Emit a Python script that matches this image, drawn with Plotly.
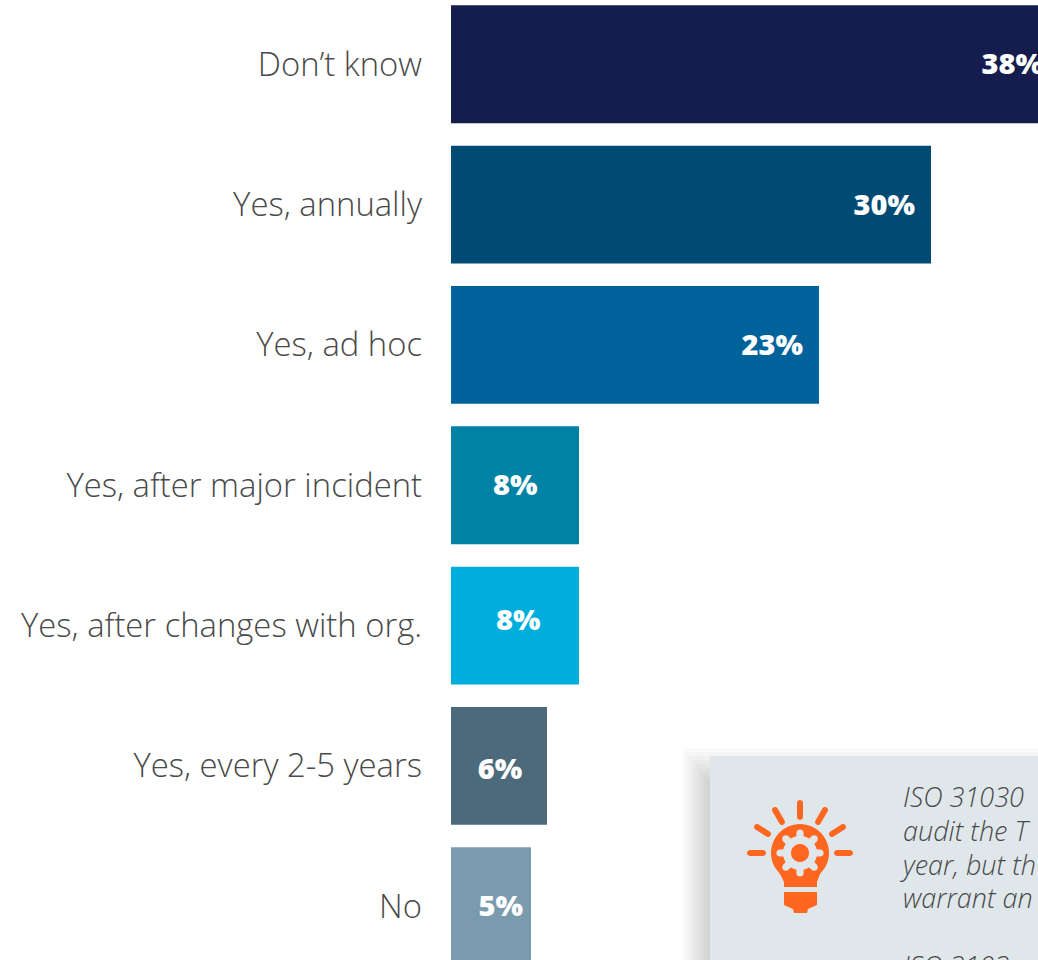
import math
import plotly.graph_objects as go

# Survey results
categories = ["Don’t know", "Yes, annually", "Yes, ad hoc", "Yes, after major incident",
              "Yes, after changes with org.", "Yes, every 2-5 years", "No"]
values = [38, 30, 23, 8, 8, 6, 5]
bar_colors = ["#151d4e", "#004b73", "#00629b", "#0082a4", "#00aedb", "#4d6a7d", "#7a9aae"]

# Nudges for the value labels, in axis units
label_dx = [-1.0, -1.0, -1.0, -2.6, -2.4, -1.55, -0.5]
label_dy = [0.02, 0.02, 0.02, 0.02, -0.02, 0.045, 0.02]

callout_lines = ["ISO 31030", "audit the T", "year, but th", "warrant an", "", "ISO 3103"]

W, H = 1038, 960
TEXT = "#4a4a4a"
ORANGE = "#ff6720"
PANEL = "#e0e7eb"
BODY_FONT = "Open Sans"


def px(x):
    return x / W


def py(y):
    return 1 - y / H


def poly(points):
    return "M " + " L ".join(f"{px(x):.5f},{py(y):.5f}" for x, y in points) + " Z"


def circle(cx, cy, r, n=48):
    return [(cx + r * math.cos(2 * math.pi * i / n), cy + r * math.sin(2 * math.pi * i / n)) for i in range(n)]


def capsule(x0, y0, x1, y1, r):
    a = math.atan2(y1 - y0, x1 - x0)
    pts = []
    for i in range(9):
        t = a + math.pi / 2 + math.pi * i / 8
        pts.append((x0 + r * math.cos(t), y0 + r * math.sin(t)))
    for i in range(9):
        t = a - math.pi / 2 + math.pi * i / 8
        pts.append((x1 + r * math.cos(t), y1 + r * math.sin(t)))
    return pts


def filled(path, color):
    return dict(type="path", xref="paper", yref="paper", path=path, fillcolor=color,
                line=dict(width=0), layer="above")


shapes = []

# Soft drop shadow behind the callout panel
for k in range(9):
    shapes.append(dict(type="rect", xref="paper", yref="paper", layer="below",
                       x0=px(683 + 3 * k), x1=px(W + 20), y0=py(748 + 4 * k), y1=py(H + 20),
                       fillcolor="rgba(0,0,0,0.02)", line=dict(width=0)))
shapes.append(dict(type="rect", xref="paper", yref="paper", layer="below",
                   x0=px(710), x1=px(W + 20), y0=py(756), y1=py(H + 20),
                   fillcolor=PANEL, line=dict(width=0)))

# Light bulb icon: rays
rays = [(800, 803, 800, 817), (775, 810, 782, 822), (825, 810, 818, 822),
        (757, 827, 768, 834), (843, 827, 832, 834), (750, 853, 763, 853), (837, 853, 850, 853)]
for r in rays:
    shapes.append(filled(poly(capsule(*r, 3)), ORANGE))

# Glass of the bulb, tapering into the neck
cx, cy, R = 800, 853, 29
glass = []
for i in range(41):
    t = math.radians(150 + 240 * i / 40)
    glass.append((cx + R * math.cos(t), cy + R * math.sin(t)))
glass += [(820, 874), (817, 882), (817, 887), (784, 887), (784, 882), (780, 874)]
shapes.append(filled(poly(glass), ORANGE))

# Screw base
shapes.append(filled(poly([(784, 892), (817, 892), (817, 905), (808, 909), (807, 913),
                           (794, 913), (793, 909), (784, 905)]), ORANGE))

# Gear inside the bulb
for i in range(8):
    t = math.pi * i / 4
    shapes.append(filled(poly(capsule(cx + 14 * math.cos(t), cy + 14 * math.sin(t),
                                      cx + 20 * math.cos(t), cy + 20 * math.sin(t), 3.6)), PANEL))
shapes.append(filled(poly(circle(cx, cy, 17)), PANEL))
shapes.append(filled(poly(circle(cx, cy, 9)), ORANGE))

fig = go.Figure()
positions = list(range(len(categories)))
fig.add_trace(go.Bar(
    x=values, y=positions, orientation="h", width=0.84,
    marker=dict(color=bar_colors, line=dict(width=0)),
    hoverinfo="skip",
))
fig.add_trace(go.Scatter(
    x=[v + d for v, d in zip(values, label_dx)],
    y=[p + d for p, d in zip(positions, label_dy)],
    mode="text", text=[f"{v}%" for v in values], textposition="middle left",
    textfont=dict(family="Open Sans", size=29, color="white", weight=800),
    hoverinfo="skip",
))

# Leading follows the annotation's 26 px font; the glyphs are set a touch larger
callout_text = "<br>".join(f'<span style="font-size:27px">{line}</span>' if line else "" for line in callout_lines)

fig.update_layout(
    width=W, height=H, margin=dict(l=0, r=0, t=0, b=0),
    paper_bgcolor="white", plot_bgcolor="white", showlegend=False,
    shapes=shapes,
    annotations=[dict(
        xref="paper", yref="paper", x=px(898), y=py(776), xanchor="left", yanchor="top",
        align="left", showarrow=False, text=callout_text,
        font=dict(family=BODY_FONT, size=26, color=TEXT, style="italic", weight=300),
    )],
    xaxis=dict(domain=[451 / W, 1], range=[0, (W - 451) / 16], showgrid=False, zeroline=False,
               showticklabels=False, ticks="", showline=False),
    yaxis=dict(domain=[0, 1], range=[6.383, -0.458], tickvals=positions, ticktext=categories,
               showgrid=False, zeroline=False, showline=False, ticks="", ticklabelstandoff=28,
               tickfont=dict(family=BODY_FONT, size=32.8, color=TEXT, weight=300)),
)

fig.write_html("out.html", config=dict(displayModeBar=False))
